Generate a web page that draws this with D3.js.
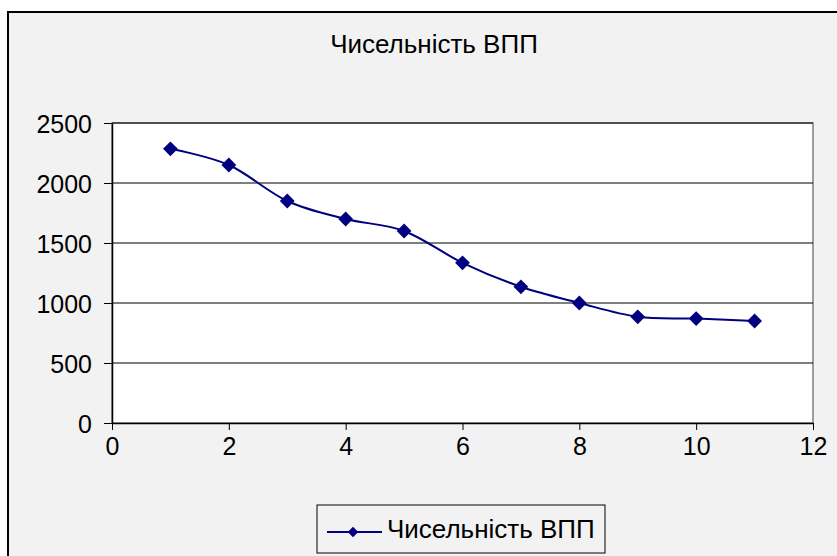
<!DOCTYPE html>
<html>
<head>
<meta charset="utf-8">
<script src="https://cdn.jsdelivr.net/npm/d3@7"></script>
<style>
  body { margin: 0; background: #fff; }
  svg { display: block; font-family: "Liberation Sans", Arial, sans-serif; }
</style>
</head>
<body>
<div id="chart"></div>
<script>
const title = "Чисельність ВПП";
const seriesName = "Чисельність ВПП";
const xValues = [1, 2, 3, 4, 5, 6, 7, 8, 9, 10, 11];
const yValues = [2285, 2150, 1850, 1700, 1600, 1335, 1135, 1000, 885, 870, 850];
const xTicks = [0, 2, 4, 6, 8, 10, 12];
const yTicks = [0, 500, 1000, 1500, 2000, 2500];

const W = 837, H = 556;
const plot = { left: 112, top: 123, right: 813, bottom: 423 };
const fontSize = 25;

const svg = d3.select("#chart").append("svg")
  .attr("width", W)
  .attr("height", H);

// chart area background with frame (runs past the window on right and bottom)
svg.append("rect")
  .attr("x", 8).attr("y", 12)
  .attr("width", W + 20).attr("height", H + 20)
  .attr("fill", "#f2f2f2")
  .attr("stroke", "#000")
  .attr("stroke-width", 2);

svg.append("text")
  .attr("x", 434).attr("y", 53)
  .attr("text-anchor", "middle")
  .attr("font-size", 26)
  .text(title);

const x = d3.scaleLinear().domain([0, 12]).range([plot.left, plot.right]);
const y = d3.scaleLinear().domain([0, 2500]).range([plot.bottom, plot.top]);

svg.append("rect")
  .attr("x", plot.left).attr("y", plot.top)
  .attr("width", plot.right - plot.left)
  .attr("height", plot.bottom - plot.top)
  .attr("fill", "#fff")
  .attr("stroke", "#808080")
  .attr("stroke-width", 1.5);

// gridlines
svg.append("g")
  .selectAll("line")
  .data(yTicks.filter(d => d > 0))
  .join("line")
    .attr("x1", plot.left).attr("x2", plot.right)
    .attr("y1", d => y(d)).attr("y2", d => y(d))
    .attr("stroke", "#000")
    .attr("stroke-width", 1);

const xAxis = svg.append("g")
  .attr("transform", `translate(0,${plot.bottom})`)
  .call(d3.axisBottom(x).tickValues(xTicks).tickFormat(d3.format("d"))
    .tickSize(7).tickPadding(7).tickSizeOuter(0));

const yAxis = svg.append("g")
  .attr("transform", `translate(${plot.left},0)`)
  .call(d3.axisLeft(y).tickValues(yTicks).tickFormat(d3.format("d"))
    .tickSize(8).tickPadding(12).tickSizeOuter(0));

[xAxis, yAxis].forEach(g => {
  g.attr("font-size", fontSize).attr("font-family", null);
  g.select(".domain").attr("stroke", "#000").attr("stroke-width", 1.5);
  g.selectAll(".tick line").attr("stroke", "#000");
  g.selectAll(".tick text").attr("fill", "#000");
});
yAxis.selectAll(".tick text").attr("dy", "0.36em");

const data = xValues.map((v, i) => ({ x: v, y: yValues[i] }));

const line = d3.line()
  .x(d => x(d.x))
  .y(d => y(d.y))
  .curve(d3.curveCatmullRom.alpha(0));

svg.append("path")
  .datum(data)
  .attr("d", line)
  .attr("fill", "none")
  .attr("stroke", "#000080")
  .attr("stroke-width", 2);

const diamond = d3.symbol().type(d3.symbolDiamond2).size(140);

svg.append("g")
  .selectAll("path")
  .data(data)
  .join("path")
    .attr("transform", d => `translate(${x(d.x)},${y(d.y)})`)
    .attr("d", diamond)
    .attr("fill", "#000080");

// legend
const legend = svg.append("g").attr("transform", "translate(317,505)");
legend.append("rect")
  .attr("width", 288).attr("height", 48)
  .attr("fill", "#f2f2f2")
  .attr("stroke", "#000")
  .attr("stroke-width", 1);
legend.append("line")
  .attr("x1", 10).attr("x2", 65)
  .attr("y1", 27).attr("y2", 27)
  .attr("stroke", "#000080")
  .attr("stroke-width", 2);
legend.append("path")
  .attr("transform", "translate(36,27)")
  .attr("d", d3.symbol().type(d3.symbolDiamond2).size(70))
  .attr("fill", "#000080");
legend.append("text")
  .attr("x", 70).attr("y", 33)
  .attr("font-size", 26)
  .text(seriesName);
</script>
</body>
</html>
